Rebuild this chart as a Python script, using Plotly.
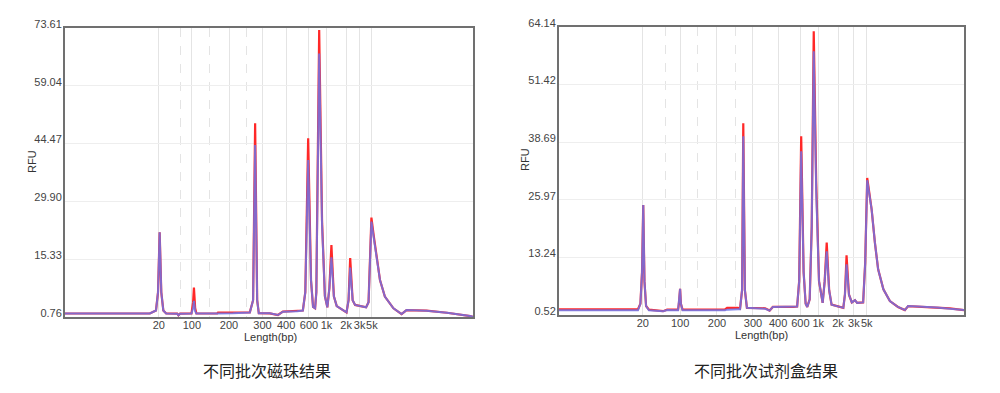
import plotly.graph_objects as go

# ---------------- data ----------------
# migration position (0-100 across the plot window) and RFU values
left_x = [0.0, 20.8, 22.3, 22.8, 23.2, 23.6, 24.1, 24.8, 27.5, 27.8, 28.2, 31.0, 31.4, 31.6, 31.9, 32.2,
          37.3, 37.5, 41.2, 45.3, 46.1, 46.6, 47.1, 47.5, 50.2, 52.2, 53.4, 56.9, 58.3, 58.9, 59.6, 60.3,
          60.8, 61.3, 61.6, 62.3, 63.0, 63.7, 64.3, 64.8, 65.3, 65.9, 66.6, 69.0, 69.5, 69.9, 70.5, 71.1,
          72.3, 73.8, 74.4, 74.8, 75.1, 75.7, 76.4, 77.2, 78.4, 80.5, 82.5, 83.7, 88.6, 93.6, 99.3, 100.0]
left_red = [1.64, 1.64, 2.4, 7.0, 22.1, 7.0, 2.4, 1.64, 1.6, 1.2, 1.6, 1.64, 4.5, 8.15, 3.0, 1.64,
            1.64, 1.9, 1.9, 1.94, 5.0, 49.6, 5.0, 1.7, 1.69, 1.26, 2.1, 2.2, 2.4, 7.0, 45.8, 10.0,
            3.3, 2.95, 7.0, 73.1, 25.0, 6.0, 3.2, 8.0, 18.9, 6.0, 3.5, 1.94, 5.0, 15.6, 5.0, 3.8,
            3.5, 3.2, 4.5, 15.0, 25.8, 21.0, 16.0, 10.1, 5.9, 2.95, 1.5, 2.5, 2.35, 1.84, 1.0, 0.8]
left_blue = [1.64, 1.64, 2.4, 7.0, 22.1, 7.0, 2.4, 1.64, 1.6, 1.2, 1.6, 1.64, 3.0, 4.8, 2.2, 1.64,
             1.64, 1.64, 1.7, 1.9, 5.0, 44.1, 5.0, 1.7, 1.69, 1.26, 2.1, 2.2, 2.4, 7.0, 40.3, 10.0,
             3.3, 2.95, 7.0, 67.2, 24.0, 6.0, 3.2, 8.0, 15.8, 6.0, 3.5, 1.94, 5.0, 13.2, 5.0, 3.8,
             3.5, 3.2, 4.5, 15.0, 24.8, 20.5, 16.0, 10.1, 5.9, 2.95, 1.5, 2.5, 2.35, 1.84, 1.0, 0.8]

right_x = [0.0, 19.5, 20.1, 20.5, 20.8, 21.1, 21.5, 22.2, 25.7, 26.7, 29.4, 29.6, 29.9, 30.1, 30.5,
           41.0, 41.5, 44.2, 44.7, 45.2, 45.5, 45.9, 46.4, 50.9, 52.0, 52.8, 57.8, 58.8, 59.3, 59.8,
           60.4, 60.9, 61.3, 61.9, 62.4, 62.9, 63.5, 64.2, 65.1, 65.6, 66.1, 66.7, 67.3, 70.2, 70.6,
           71.0, 71.6, 72.3, 73.1, 73.6, 75.1, 75.6, 76.1, 77.2, 78.0, 78.8, 80.1, 81.7, 83.7, 85.4,
           86.2, 93.3, 96.5, 100.0]
right_red = [1.78, 1.78, 3.0, 10.0, 24.8, 8.0, 2.5, 1.7, 1.36, 1.7, 1.7, 3.0, 6.3, 3.0, 1.7,
             1.78, 2.1, 2.1, 1.9, 6.0, 42.9, 6.0, 2.1, 2.0, 1.5, 2.3, 2.3, 2.4, 8.0, 40.0,
             10.0, 3.0, 2.3, 4.0, 20.0, 63.2, 30.0, 8.0, 3.2, 8.0, 16.5, 6.0, 2.8, 2.1, 5.0,
             13.7, 5.0, 3.3, 3.8, 3.2, 3.3, 12.0, 30.8, 23.8, 16.5, 10.6, 6.2, 3.6, 2.3, 1.6,
             2.5, 2.2, 2.0, 1.6]
right_blue = [1.56, 1.56, 3.0, 10.0, 24.8, 8.0, 2.5, 1.56, 1.36, 1.6, 1.56, 3.0, 6.3, 3.0, 1.56,
              1.56, 1.7, 1.8, 1.8, 6.0, 40.0, 6.0, 2.1, 1.9, 1.5, 2.3, 2.3, 2.4, 8.0, 36.7,
              10.0, 3.0, 2.3, 4.0, 20.0, 58.8, 28.0, 8.0, 3.2, 8.0, 14.6, 6.0, 2.8, 2.1, 5.0,
              11.7, 5.0, 3.3, 3.8, 3.2, 3.3, 12.0, 30.3, 23.8, 16.5, 10.6, 6.2, 3.6, 2.3, 1.6,
              2.5, 2.2, 1.9, 1.6]

# ladder (size labels) and their migration positions
ladder_labels = ["20", "100", "200", "300", "400", "600", "1k", "2k", "3k", "5k"]
ladder_pos_left = [23.0, 31.1, 40.2, 48.4, 54.2, 59.8, 64.1, 68.9, 72.2, 75.2]
ladder_pos_right = [20.7, 29.9, 39.0, 47.9, 54.1, 59.6, 64.0, 68.9, 72.8, 76.0]
minor_pos_left = [28.2, 35.5, 44.6]
minor_pos_right = [26.2, 34.1, 43.5]

yticks_left = [0.76, 15.33, 29.90, 44.47, 59.04, 73.61]
yticks_right = [0.52, 13.24, 25.97, 38.69, 51.42, 64.14]

titles = ["不同批次磁珠结果", "不同批次试剂盒结果"]

# ---------------- figure ----------------
RED = "rgb(255,40,40)"
BLUE = "rgba(110,115,230,0.85)"
TICKFONT = dict(family="Liberation Sans, Arial, sans-serif", size=11, color="#444444")

fig = go.Figure()
fig.add_trace(go.Scatter(x=left_x, y=left_red, mode="lines", line=dict(color=RED, width=2.2),
                         xaxis="x", yaxis="y", hoverinfo="skip"))
fig.add_trace(go.Scatter(x=left_x, y=left_blue, mode="lines", line=dict(color=BLUE, width=2),
                         xaxis="x", yaxis="y", hoverinfo="skip"))
fig.add_trace(go.Scatter(x=right_x, y=right_red, mode="lines", line=dict(color=RED, width=2.2),
                         xaxis="x2", yaxis="y2", hoverinfo="skip"))
fig.add_trace(go.Scatter(x=right_x, y=right_blue, mode="lines", line=dict(color=BLUE, width=2),
                         xaxis="x2", yaxis="y2", hoverinfo="skip"))


def xaxis(domain, anchor, pos, minor_pos):
    return dict(domain=domain, anchor=anchor, range=[0, 100], tickmode="array",
                tickvals=pos, ticktext=ladder_labels, showgrid=True, gridcolor="#e4e4e4",
                gridwidth=1, zeroline=False, showline=True, linecolor="#707070", linewidth=2,
                mirror=True, ticks="", tickfont=TICKFONT, tickangle=0, automargin=False,
                ticklabelstandoff=-3,
                minor=dict(tickmode="array", tickvals=minor_pos, showgrid=True,
                           gridcolor="#e4e4e4", griddash="dash", gridwidth=1))


def yaxis(domain, anchor, vals):
    return dict(domain=domain, anchor=anchor, range=[vals[0], vals[-1]], tickmode="array",
                tickvals=vals, ticktext=[f"{v:.2f}" for v in vals], showgrid=True,
                gridcolor="#eeeeee", gridwidth=1, zeroline=False, showline=True,
                linecolor="#707070", linewidth=2, mirror=True, ticks="", tickfont=TICKFONT,
                ticklabelshift=-4, ticklabelstandoff=-1, automargin=False)


fig.update_layout(
    width=1000, height=393, margin=dict(l=0, r=0, t=0, b=0, autoexpand=False),
    paper_bgcolor="white", plot_bgcolor="white", showlegend=False,
    xaxis=xaxis([0.065, 0.473], "y", ladder_pos_left, minor_pos_left),
    yaxis=yaxis([1 - 317 / 393, 1 - 28 / 393], "x", yticks_left),
    xaxis2=xaxis([0.559, 0.964], "y2", ladder_pos_right, minor_pos_right),
    yaxis2=yaxis([1 - 315 / 393, 1 - 27 / 393], "x2", yticks_right),
)

ann_font = dict(family="Liberation Sans, Arial, sans-serif", size=11, color="#333333")
for xc, yc in [(270, 337), (761, 335)]:
    fig.add_annotation(text="Length(bp)", x=xc / 1000, y=1 - yc / 393, xref="paper", yref="paper",
                       showarrow=False, font=ann_font, xanchor="center", yanchor="middle")
for xc, yc in [(32, 162), (525, 160)]:
    fig.add_annotation(text="RFU", x=xc / 1000, y=1 - yc / 393, xref="paper", yref="paper",
                       showarrow=False, font=ann_font, textangle=-90, xanchor="center",
                       yanchor="middle")
for t, xc in zip(titles, [267, 766]):
    fig.add_annotation(text=t, x=xc / 1000, y=1 - 370 / 393, xref="paper", yref="paper",
                       showarrow=False, xanchor="center", yanchor="middle",
                       font=dict(family="Noto Sans CJK SC", size=16, color="#222222"))

fig.write_html("out.html", post_script="document.body.style.margin='0';",
               config={"displayModeBar": False})
